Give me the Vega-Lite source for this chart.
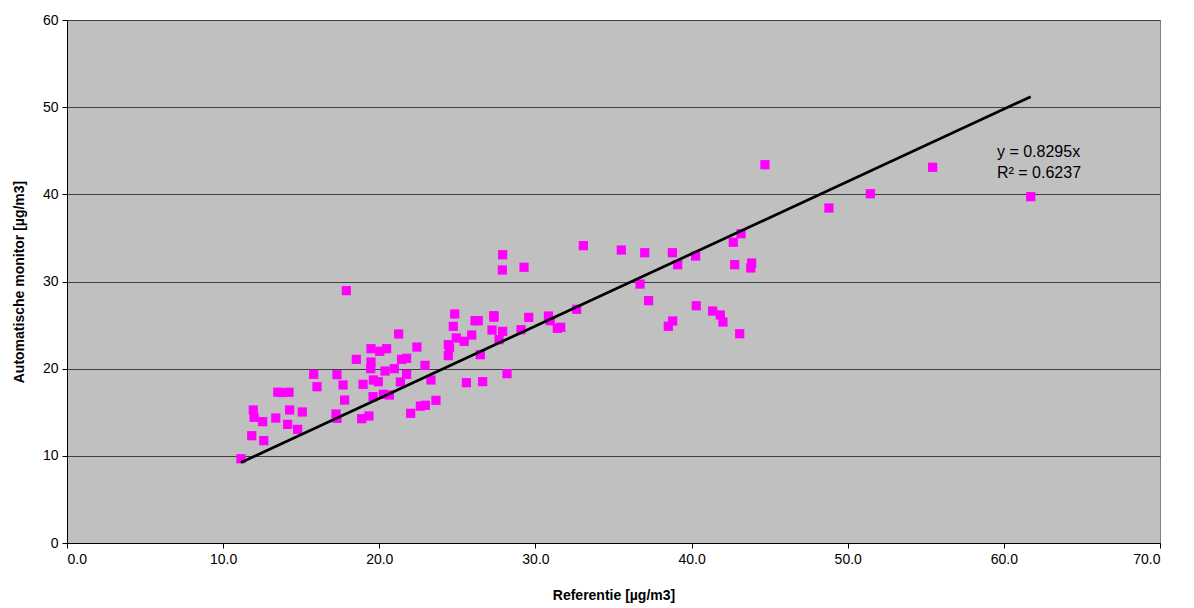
{
  "$schema": "https://vega.github.io/schema/vega-lite/v6.json",
  "width": 1093,
  "height": 523,
  "autosize": {"type": "none"},
  "padding": {"left": 67, "top": 20, "right": 34, "bottom": 65},
  "background": "#ffffff",
  "config": {
    "font": "Liberation Sans",
    "view": {"fill": "#c0c0c0", "stroke": "#808080", "strokeWidth": 1},
    "axis": {
      "labelFont": "Liberation Sans",
      "titleFont": "Liberation Sans",
      "labelFontSize": 14,
      "titleFontSize": 14,
      "titleFontWeight": "bold",
      "labelColor": "#000000",
      "titleColor": "#000000",
      "domainColor": "#000000",
      "tickColor": "#000000",
      "tickSize": 5
    }
  },
  "datasets": {
    "metingen": [
      {"referentie": 11.14, "monitor": 9.67},
      {"referentie": 11.83, "monitor": 12.31},
      {"referentie": 12.6, "monitor": 11.74},
      {"referentie": 11.93, "monitor": 15.26},
      {"referentie": 11.98, "monitor": 14.42},
      {"referentie": 12.53, "monitor": 13.92},
      {"referentie": 13.37, "monitor": 14.34},
      {"referentie": 13.5, "monitor": 17.3},
      {"referentie": 13.75, "monitor": 17.26},
      {"referentie": 14.22, "monitor": 17.29},
      {"referentie": 14.26, "monitor": 15.26},
      {"referentie": 14.13, "monitor": 13.61},
      {"referentie": 14.77, "monitor": 13.04},
      {"referentie": 15.07, "monitor": 15.03},
      {"referentie": 15.8, "monitor": 19.35},
      {"referentie": 16.01, "monitor": 17.93},
      {"referentie": 17.29, "monitor": 19.31},
      {"referentie": 17.68, "monitor": 18.13},
      {"referentie": 17.89, "monitor": 28.95},
      {"referentie": 17.78, "monitor": 16.4},
      {"referentie": 17.23, "monitor": 14.8},
      {"referentie": 17.29, "monitor": 14.3},
      {"referentie": 18.53, "monitor": 21.07},
      {"referentie": 18.96, "monitor": 18.2},
      {"referentie": 18.87, "monitor": 14.26},
      {"referentie": 19.34, "monitor": 14.57},
      {"referentie": 19.47, "monitor": 22.29},
      {"referentie": 19.47, "monitor": 20.76},
      {"referentie": 19.45, "monitor": 20.0},
      {"referentie": 19.62, "monitor": 18.7},
      {"referentie": 19.94, "monitor": 18.5},
      {"referentie": 19.6, "monitor": 16.79},
      {"referentie": 20.26, "monitor": 17.06},
      {"referentie": 20.65, "monitor": 16.98},
      {"referentie": 20.03, "monitor": 21.99},
      {"referentie": 20.47, "monitor": 22.29},
      {"referentie": 20.37, "monitor": 19.73},
      {"referentie": 20.96, "monitor": 20.0},
      {"referentie": 21.24, "monitor": 23.98},
      {"referentie": 21.43, "monitor": 21.07},
      {"referentie": 21.75, "monitor": 21.19},
      {"referentie": 21.75, "monitor": 19.35},
      {"referentie": 21.35, "monitor": 18.47},
      {"referentie": 22.41, "monitor": 22.48},
      {"referentie": 22.01, "monitor": 14.88},
      {"referentie": 22.63, "monitor": 15.7},
      {"referentie": 22.95, "monitor": 15.8},
      {"referentie": 22.93, "monitor": 20.38},
      {"referentie": 23.31, "monitor": 18.7},
      {"referentie": 23.63, "monitor": 16.37},
      {"referentie": 24.42, "monitor": 22.75},
      {"referentie": 24.5, "monitor": 22.4},
      {"referentie": 24.42, "monitor": 21.49},
      {"referentie": 24.83, "monitor": 26.27},
      {"referentie": 24.74, "monitor": 24.86},
      {"referentie": 24.93, "monitor": 23.52},
      {"referentie": 25.44, "monitor": 23.14},
      {"referentie": 25.92, "monitor": 23.86},
      {"referentie": 26.47, "monitor": 21.6},
      {"referentie": 25.58, "monitor": 18.39},
      {"referentie": 26.62, "monitor": 18.51},
      {"referentie": 26.13, "monitor": 25.5},
      {"referentie": 26.34, "monitor": 25.5},
      {"referentie": 27.33, "monitor": 26.08},
      {"referentie": 27.35, "monitor": 25.9},
      {"referentie": 27.22, "monitor": 24.43},
      {"referentie": 27.9, "monitor": 24.28},
      {"referentie": 27.67, "monitor": 23.33},
      {"referentie": 27.9, "monitor": 33.07},
      {"referentie": 27.88, "monitor": 31.32},
      {"referentie": 29.27, "monitor": 31.63},
      {"referentie": 28.18, "monitor": 19.42},
      {"referentie": 29.08, "monitor": 24.47},
      {"referentie": 29.57, "monitor": 25.89},
      {"referentie": 30.83, "monitor": 26.04},
      {"referentie": 30.95, "monitor": 25.5},
      {"referentie": 31.4, "monitor": 24.63},
      {"referentie": 31.62, "monitor": 24.74},
      {"referentie": 32.64, "monitor": 26.81},
      {"referentie": 33.07, "monitor": 34.11},
      {"referentie": 35.5, "monitor": 33.61},
      {"referentie": 37.0, "monitor": 33.3},
      {"referentie": 38.77, "monitor": 33.3},
      {"referentie": 39.11, "monitor": 31.93},
      {"referentie": 40.26, "monitor": 32.92},
      {"referentie": 42.67, "monitor": 34.5},
      {"referentie": 43.17, "monitor": 35.48},
      {"referentie": 42.76, "monitor": 31.93},
      {"referentie": 43.85, "monitor": 32.12},
      {"referentie": 43.79, "monitor": 31.55},
      {"referentie": 36.7, "monitor": 29.71},
      {"referentie": 37.25, "monitor": 27.8},
      {"referentie": 40.3, "monitor": 27.22},
      {"referentie": 38.79, "monitor": 25.47},
      {"referentie": 38.51, "monitor": 24.86},
      {"referentie": 41.35, "monitor": 26.61},
      {"referentie": 41.84, "monitor": 26.16},
      {"referentie": 42.01, "monitor": 25.35},
      {"referentie": 43.08, "monitor": 24.01},
      {"referentie": 44.7, "monitor": 43.4},
      {"referentie": 48.8, "monitor": 38.43},
      {"referentie": 51.45, "monitor": 40.07},
      {"referentie": 55.44, "monitor": 43.1},
      {"referentie": 61.72, "monitor": 39.73}
    ],
    "trendlijn": [
      {"referentie": 11.14, "monitor": 9.24},
      {"referentie": 61.72, "monitor": 51.2}
    ],
    "vergelijking": [
      {"referentie": 59.56, "monitor": 44.9, "tekst": "y = 0.8295x"},
      {"referentie": 59.56, "monitor": 42.45, "tekst": "R² = 0.6237"}
    ]
  },
  "encoding": {
    "x": {
      "field": "referentie",
      "type": "quantitative",
      "scale": {"domain": [0, 70], "nice": false, "zero": true},
      "axis": {
        "title": "Referentie [µg/m3]",
        "values": [0, 10, 20, 30, 40, 50, 60, 70],
        "format": ".1f",
        "grid": false,
        "labelPadding": 4,
        "titlePadding": 22
      }
    },
    "y": {
      "field": "monitor",
      "type": "quantitative",
      "scale": {"domain": [0, 60], "nice": false},
      "axis": {
        "title": "Automatische monitor [µg/m3]",
        "values": [0, 10, 20, 30, 40, 50, 60],
        "format": "d",
        "grid": true,
        "gridColor": "#404040",
        "gridWidth": 1,
        "gridOpacity": 1,
        "labelPadding": 4,
        "titlePadding": 16
      }
    }
  },
  "layer": [
    {
      "data": {"name": "metingen"},
      "mark": {"type": "point", "shape": "square", "filled": true, "size": 85, "color": "#ff00ff", "opacity": 1}
    },
    {
      "data": {"name": "trendlijn"},
      "mark": {"type": "line", "color": "#000000", "strokeWidth": 2.7}
    },
    {
      "data": {"name": "vergelijking"},
      "mark": {"type": "text", "align": "left", "baseline": "middle", "fontSize": 16, "color": "#000000", "font": "Liberation Sans"},
      "encoding": {"text": {"field": "tekst"}}
    }
  ]
}
